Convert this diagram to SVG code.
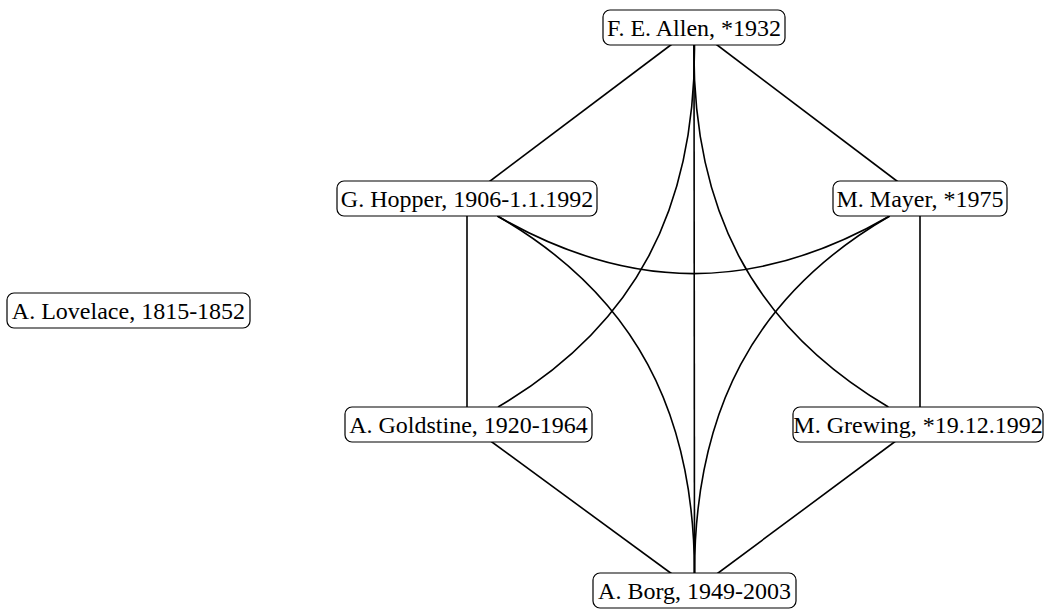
<svg xmlns="http://www.w3.org/2000/svg" width="1045" height="609" viewBox="0 0 1045 609">
<style>
.e{fill:none;stroke:#000;stroke-width:1.6}
.n rect{fill:#fff;stroke:#000;stroke-width:1.2}
.n text{font-family:"Liberation Serif","Times New Roman",serif;font-size:24px;text-anchor:middle;fill:#000}
</style>
<rect width="1045" height="609" fill="#fff"/>
<g id="connectors">
<line class="e" x1="694" y1="27.5" x2="467" y2="198.5"/>
<line class="e" x1="694" y1="27.5" x2="920" y2="198.5"/>
<line class="e" x1="694" y1="27.5" x2="694.5" y2="590.5"/>
<line class="e" x1="467" y1="198.5" x2="467" y2="424.5"/>
<line class="e" x1="920" y1="198.5" x2="920" y2="424.5"/>
<line class="e" x1="468" y1="424.5" x2="694.5" y2="590.5"/>
<line class="e" x1="918" y1="424.5" x2="694.5" y2="590.5"/>
<path class="e" d="M694.5,45 C695.5,206.3 637.2,325.5 498,407"/>
<path class="e" d="M693.9,45 C692.3,205.9 749.9,325.1 888.4,407"/>
<path class="e" d="M497.3,216 C630.3,292.8 756.7,292.8 889.7,216"/>
<path class="e" d="M497.4,216 C635.8,295.5 694.2,413.3 694.5,573"/>
<path class="e" d="M889.8,216 C752,295.8 694.8,413.7 694.5,573"/>
</g>
<g id="allen" class="n"><rect x="603" y="10" width="182" height="35" rx="7"/><text x="694" y="35.5">F. E. Allen, *1932</text></g>
<g id="hopper" class="n"><rect x="337" y="181" width="260" height="35" rx="7"/><text x="467" y="206.5">G. Hopper, 1906-1.1.1992</text></g>
<g id="mayer" class="n"><rect x="833" y="181" width="174" height="35" rx="7"/><text x="920" y="206.5">M. Mayer, *1975</text></g>
<g id="lovelace" class="n"><rect x="7" y="293" width="243" height="35" rx="7"/><text x="128.5" y="318.5">A. Lovelace, 1815-1852</text></g>
<g id="goldstine" class="n"><rect x="345" y="407" width="247" height="35" rx="7"/><text x="468.5" y="432.5">A. Goldstine, 1920-1964</text></g>
<g id="grewing" class="n"><rect x="793" y="407" width="250" height="35" rx="7"/><text x="918" y="432.5">M. Grewing, *19.12.1992</text></g>
<g id="borg" class="n"><rect x="593" y="573" width="203" height="35" rx="7"/><text x="694.5" y="598.5">A. Borg, 1949-2003</text></g>
</svg>
